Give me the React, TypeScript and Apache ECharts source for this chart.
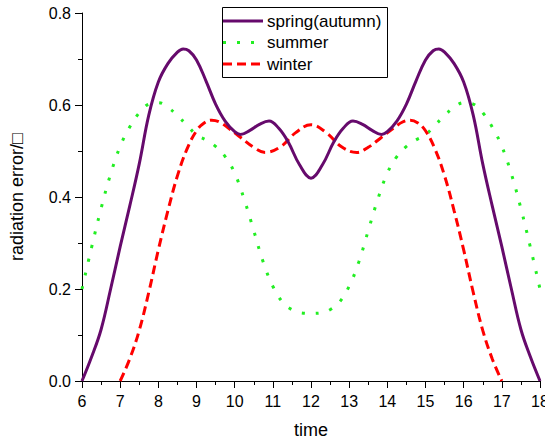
import React, { useEffect, useRef } from "react";
import * as echarts from "echarts";

const springX = [6, 6.25, 6.5, 6.75, 7, 7.25, 7.5, 7.75, 8, 8.25, 8.5, 8.65, 8.8, 9, 9.25, 9.5, 9.75, 10, 10.15, 10.4, 10.65, 10.9, 11.15, 11.4, 11.7, 12, 12.3, 12.6, 12.85, 13.1, 13.35, 13.6, 13.85, 14, 14.25, 14.5, 14.75, 15, 15.2, 15.35, 15.5, 15.75, 16, 16.25, 16.5, 16.75, 17, 17.25, 17.5, 17.75, 18];
const springY = [0, 0.052, 0.112, 0.2, 0.292, 0.38, 0.472, 0.578, 0.65, 0.69, 0.715, 0.722, 0.718, 0.698, 0.652, 0.602, 0.565, 0.542, 0.536, 0.545, 0.558, 0.565, 0.55, 0.52, 0.47, 0.441, 0.47, 0.52, 0.55, 0.565, 0.558, 0.545, 0.536, 0.542, 0.565, 0.602, 0.652, 0.698, 0.718, 0.722, 0.715, 0.69, 0.65, 0.578, 0.472, 0.38, 0.292, 0.2, 0.112, 0.052, 0];

const summerX = [6, 6.25, 6.5, 6.75, 7, 7.25, 7.5, 7.75, 8, 8.25, 8.5, 8.75, 9, 9.25, 9.5, 9.75, 10, 10.25, 10.5, 10.75, 11, 11.25, 11.5, 11.75, 12, 12.25, 12.5, 12.75, 13, 13.25, 13.5, 13.75, 14, 14.25, 14.5, 14.75, 15, 15.25, 15.5, 15.75, 16, 16.25, 16.5, 16.75, 17, 17.25, 17.5, 17.75, 18];
const summerY = [0.2, 0.29, 0.375, 0.45, 0.51, 0.552, 0.583, 0.602, 0.605, 0.595, 0.577, 0.556, 0.535, 0.524, 0.51, 0.488, 0.452, 0.395, 0.327, 0.258, 0.206, 0.172, 0.155, 0.148, 0.147, 0.148, 0.155, 0.172, 0.206, 0.258, 0.327, 0.395, 0.452, 0.488, 0.51, 0.524, 0.535, 0.556, 0.577, 0.595, 0.605, 0.602, 0.583, 0.552, 0.51, 0.45, 0.375, 0.29, 0.2];

const winterX = [7, 7.25, 7.5, 7.75, 8, 8.25, 8.5, 8.75, 9, 9.2, 9.4, 9.6, 9.85, 10.15, 10.5, 10.8, 11.2, 11.6, 12, 12.4, 12.8, 13.2, 13.5, 13.85, 14.15, 14.4, 14.6, 14.8, 15, 15.25, 15.5, 15.75, 16, 16.25, 16.5, 16.75, 17];
const winterY = [0, 0.048, 0.11, 0.193, 0.285, 0.37, 0.446, 0.504, 0.544, 0.561, 0.567, 0.563, 0.549, 0.53, 0.508, 0.497, 0.509, 0.54, 0.557, 0.54, 0.509, 0.497, 0.508, 0.53, 0.549, 0.563, 0.567, 0.561, 0.544, 0.504, 0.446, 0.37, 0.285, 0.193, 0.11, 0.048, 0];

const seriesNames = ["spring(autumn)", "summer", "winter"];
const seriesColors = ["#660a6c", "#22ee22", "#ff0000"];
const xTicks = [6, 18, 1];
const yTicks = [0, 0.8, 0.2];

const pairs = (xs: number[], ys: number[]) => xs.map((x, i) => [x, ys[i]]);

const FONT = "Liberation Sans";
const dashes: (number[] | null)[] = [null, [3, 11], [9, 5]];

export default function App() {
  const ref = useRef<HTMLDivElement>(null);
  useEffect(() => {
    document.body.style.margin = "0";
    const chart = echarts.init(ref.current!, null, { renderer: "svg" });

    const legendX = 222;
    const legendY = 7;
    const rowH = 21.5;
    const legendChildren: any[] = [
      {
        type: "rect",
        shape: { x: legendX + 0.5, y: legendY + 0.5, width: 165, height: 70 },
        style: { fill: "#fff", stroke: "#000", lineWidth: 1 },
      },
    ];
    seriesNames.forEach((name, i) => {
      const cy = legendY + 14 + i * rowH;
      legendChildren.push({
        type: "line",
        shape: { x1: legendX + 1, y1: cy, x2: legendX + 41, y2: cy },
        style: {
          stroke: seriesColors[i],
          lineWidth: 3,
          lineDash: dashes[i] || undefined,
        },
      });
      legendChildren.push({
        type: "text",
        x: legendX + 45,
        y: cy,
        style: {
          text: name,
          fontFamily: FONT,
          fontSize: 17,
          fill: "#000",
          verticalAlign: "middle",
          align: "left",
        },
      });
    });

    chart.setOption({
      animation: false,
      backgroundColor: "#fff",
      textStyle: { fontFamily: FONT },
      grid: { left: 82, right: 5, top: 13, bottom: 59, containLabel: false, outerBoundsMode: "none" },
      graphic: [{ type: "group", z: 100, children: legendChildren }],
      xAxis: {
        type: "value",
        min: xTicks[0],
        max: xTicks[1],
        interval: xTicks[2],
        name: "time",
        nameLocation: "middle",
        nameGap: 40,
        nameTextStyle: { fontFamily: FONT, fontSize: 18, color: "#000" },
        axisLine: { show: true, onZero: false, lineStyle: { color: "#000", width: 1 } },
        axisTick: { show: true, length: 7, lineStyle: { color: "#000" } },
        minorTick: { show: true, splitNumber: 2, length: 4, lineStyle: { color: "#000" } },
        axisLabel: { fontFamily: FONT, fontSize: 16, color: "#000", margin: 12, showMaxLabel: true, hideOverlap: false },
        splitLine: { show: false },
      },
      yAxis: {
        type: "value",
        min: yTicks[0],
        max: yTicks[1],
        interval: yTicks[2],
        name: "radiation error/□",
        nameLocation: "middle",
        nameGap: 56,
        nameTextStyle: { fontFamily: FONT, fontSize: 18, color: "#000" },
        axisLine: { show: true, onZero: false, lineStyle: { color: "#000", width: 1 } },
        axisTick: { show: true, length: 7, lineStyle: { color: "#000" } },
        minorTick: { show: true, splitNumber: 2, length: 4, lineStyle: { color: "#000" } },
        axisLabel: { fontFamily: FONT, fontSize: 16, color: "#000", margin: 11, formatter: (v: number) => v.toFixed(1) },
        splitLine: { show: false },
      },
      series: [
        {
          name: seriesNames[0],
          type: "line",
          data: pairs(springX, springY),
          smooth: 0.4,
          symbol: "none",
          color: seriesColors[0],
          lineStyle: { color: seriesColors[0], width: 3 },
          z: 3,
        },
        {
          name: seriesNames[1],
          type: "line",
          data: pairs(summerX, summerY),
          smooth: 0.4,
          symbol: "none",
          color: seriesColors[1],
          lineStyle: { color: seriesColors[1], width: 3, type: dashes[1] },
          z: 2,
        },
        {
          name: seriesNames[2],
          type: "line",
          data: pairs(winterX, winterY),
          smooth: 0.4,
          symbol: "none",
          color: seriesColors[2],
          lineStyle: { color: seriesColors[2], width: 3, type: dashes[2] },
          z: 2,
        },
      ],
    });
    return () => chart.dispose();
  }, []);
  return <div ref={ref} style={{ width: 545, height: 440 }} />;
}
